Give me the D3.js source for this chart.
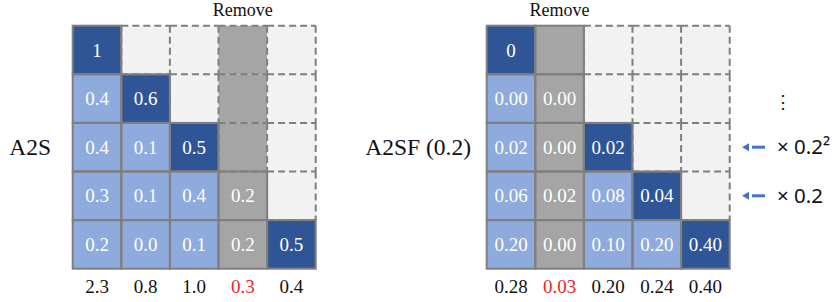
<!DOCTYPE html>
<html>
<head>
<meta charset="utf-8">
<script src="https://cdn.jsdelivr.net/npm/d3@7"></script>
<style>
  body { margin: 0; background: #fff; }
  svg { display: block; }
</style>
</head>
<body>
<svg width="839" height="302"></svg>
<script>
// attention score matrices ("" = empty cell)
var a2sValues = [
  ["1", "", "", "", ""],
  ["0.4", "0.6", "", "", ""],
  ["0.4", "0.1", "0.5", "", ""],
  ["0.3", "0.1", "0.4", "0.2", ""],
  ["0.2", "0.0", "0.1", "0.2", "0.5"]
];
var a2sSums = ["2.3", "0.8", "1.0", "0.3", "0.4"];
var a2sRemoved = 3;

var a2sfValues = [
  ["0", "", "", "", ""],
  ["0.00", "0.00", "", "", ""],
  ["0.02", "0.00", "0.02", "", ""],
  ["0.06", "0.02", "0.08", "0.04", ""],
  ["0.20", "0.00", "0.10", "0.20", "0.40"]
];
var a2sfSums = ["0.28", "0.03", "0.20", "0.24", "0.40"];
var a2sfRemoved = 1;

var factorLabels = ["⋮", "× 0.2²", "× 0.2"];

var svg = d3.select("svg");
var cell = 48.6;
var serif = "Liberation Serif, serif";
var colors = {dark: "#2f5597", light: "#8faadc", removed: "#a5a5a5", empty: "#f2f2f2", line: "#7f7f7f"};

function drawGrid(x0, y0, values, sums, removed, title, titleX) {
  var n = values.length;
  var x = d3.scaleBand().domain(d3.range(n)).range([x0, x0 + n * cell]);
  var y = d3.scaleBand().domain(d3.range(n)).range([y0, y0 + n * cell]);

  var cells = [];
  values.forEach(function(row, i) {
    row.forEach(function(v, j) {
      var kind;
      if (j == removed && (i >= j || (i < j && removed == 1))) kind = "removed";
      else if (j == removed) kind = "removedEmpty";
      else if (i == j) kind = "dark";
      else if (i > j) kind = "light";
      else kind = "empty";
      cells.push({i: i, j: j, v: v, kind: kind});
    });
  });
  var solid = function(d) { return d.kind == "dark" || d.kind == "light" || d.kind == "removed"; };

  var g = svg.append("g");
  g.selectAll("rect.fill").data(cells).enter().append("rect")
    .attr("x", function(d) { return x(d.j); })
    .attr("y", function(d) { return y(d.i); })
    .attr("width", cell).attr("height", cell)
    .attr("fill", function(d) {
      if (d.kind == "removed" || d.kind == "removedEmpty") return colors.removed;
      return colors[d.kind];
    });

  // dashed edges for the empty upper part, each edge once
  var edges = {};
  cells.filter(function(d) { return !solid(d); }).forEach(function(d) {
    var l = x(d.j), r = l + cell, t = y(d.i), b = t + cell;
    edges["h" + d.i + "_" + d.j] = [l, t, r, t];
    edges["h" + (d.i + 1) + "_" + d.j] = [l, b, r, b];
    edges["v" + d.i + "_" + d.j] = [l, t, l, b];
    edges["v" + d.i + "_" + (d.j + 1)] = [r, t, r, b];
  });
  g.selectAll("line.dash").data(Object.values(edges)).enter().append("line")
    .attr("x1", function(e) { return e[0]; })
    .attr("y1", function(e) { return e[1]; })
    .attr("x2", function(e) { return e[2]; })
    .attr("y2", function(e) { return e[3]; })
    .attr("stroke", colors.line)
    .attr("stroke-width", 2)
    .attr("stroke-dasharray", "7,4");

  g.selectAll("rect.solid").data(cells.filter(solid)).enter().append("rect")
    .attr("x", function(d) { return x(d.j); })
    .attr("y", function(d) { return y(d.i); })
    .attr("width", cell).attr("height", cell)
    .attr("fill", "none")
    .attr("stroke", colors.line)
    .attr("stroke-width", 2);

  g.selectAll("text.val").data(cells.filter(function(d) { return d.v !== ""; })).enter().append("text")
    .attr("x", function(d) { return x(d.j) + cell / 2; })
    .attr("y", function(d) { return y(d.i) + cell / 2; })
    .attr("dy", "0.35em")
    .attr("text-anchor", "middle")
    .style("font-family", serif)
    .style("font-size", "19px")
    .style("fill", "#fff")
    .text(function(d) { return d.v; });

  g.selectAll("text.sum").data(sums).enter().append("text")
    .attr("x", function(d, j) { return x(j) + cell / 2; })
    .attr("y", y0 + n * cell + 18)
    .attr("dy", "0.35em")
    .attr("text-anchor", "middle")
    .style("font-family", serif)
    .style("font-size", "19px")
    .style("fill", function(d, j) { return j == removed ? "#e8262b" : "#111"; })
    .text(function(d) { return d; });

  g.append("text")
    .attr("x", x(removed) + cell / 2)
    .attr("y", 10)
    .attr("dy", "0.35em")
    .attr("text-anchor", "middle")
    .style("font-family", serif)
    .style("font-size", "18px")
    .style("fill", "#111")
    .text("Remove");

  g.append("text")
    .attr("x", titleX)
    .attr("y", y0 + n * cell / 2)
    .attr("dy", "0.35em")
    .attr("text-anchor", "end")
    .style("font-family", serif)
    .style("font-size", "23.5px")
    .style("fill", "#111")
    .text(title);

  return y;
}

drawGrid(72.7, 25.7, a2sValues, a2sSums, a2sRemoved, "A2S", 51);
var yr = drawGrid(486.7, 25.7, a2sfValues, a2sfSums, a2sfRemoved, "A2SF (0.2)", 471);

// decay factors on the right
var ann = svg.append("g");
factorLabels.forEach(function(t, k) {
  var row = k + 1;
  var cy = yr(row) + cell / 2;
  if (k == 0) {
    ann.append("text")
      .attr("x", 783).attr("y", cy + 3)
      .attr("dy", "0.35em")
      .attr("text-anchor", "middle")
      .style("font-family", "Noto Sans, sans-serif")
      .style("font-size", "18px")
      .style("fill", "#111")
      .text(t);
    return;
  }
  ann.append("path")
    .attr("d", "M742," + cy + "l7,-4v8z")
    .attr("fill", "#4472c4");
  ann.append("line")
    .attr("x1", 752).attr("x2", 765)
    .attr("y1", cy).attr("y2", cy)
    .attr("stroke", "#4472c4").attr("stroke-width", 3);
  ann.append("text")
    .attr("x", 777).attr("y", cy)
    .attr("dy", "0.35em")
    .style("font-family", "Noto Sans, sans-serif")
    .style("font-size", "20.5px")
    .style("fill", "#111")
    .text(t);
});
</script>
</body>
</html>
